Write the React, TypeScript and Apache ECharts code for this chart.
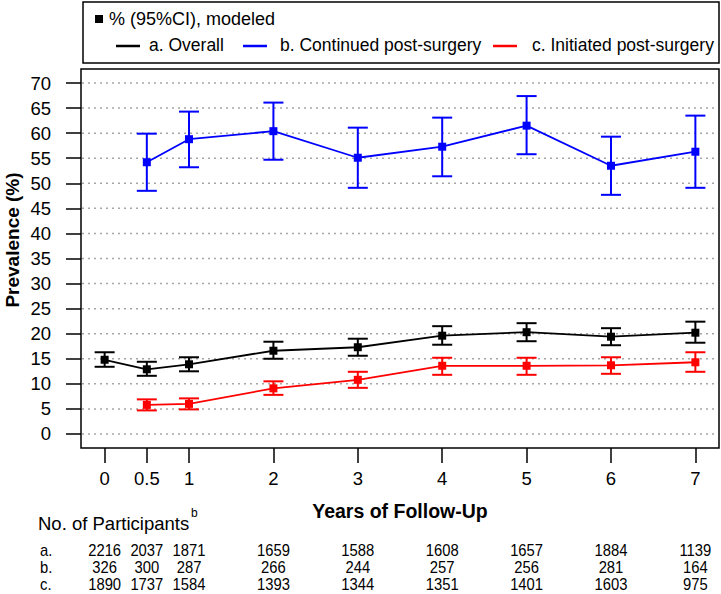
import React, { useEffect, useRef } from 'react';
import * as echarts from 'echarts';

const FONT = '"Liberation Sans", Arial, Helvetica, sans-serif';

const years = [0, 0.5, 1, 2, 3, 4, 5, 6, 7];
const yTicks = [0, 5, 10, 15, 20, 25, 30, 35, 40, 45, 50, 55, 60, 65, 70];
const xRange = [-0.28, 7.28];
const yRange = [-2.8, 72.8];

const overallEst = [14.8, 12.9, 13.9, 16.6, 17.3, 19.6, 20.3, 19.4, 20.2];
const overallLow = [13.4, 11.6, 12.5, 15.0, 15.6, 17.8, 18.5, 17.7, 18.2];
const overallHigh = [16.3, 14.4, 15.3, 18.4, 19.0, 21.5, 22.1, 21.1, 22.4];

const subYears = [0.5, 1, 2, 3, 4, 5, 6, 7];
const contEst = [54.2, 58.8, 60.4, 55.1, 57.3, 61.5, 53.5, 56.3];
const contLow = [48.5, 53.2, 54.7, 49.1, 51.4, 55.8, 47.7, 49.1];
const contHigh = [59.9, 64.3, 66.1, 61.1, 63.1, 67.4, 59.3, 63.5];

const initEst = [5.8, 6.0, 9.1, 10.8, 13.6, 13.6, 13.7, 14.3];
const initLow = [4.7, 4.9, 7.8, 9.2, 11.8, 11.8, 12.0, 12.4];
const initHigh = [6.9, 7.1, 10.5, 12.4, 15.2, 15.2, 15.3, 16.3];

const rowLabels = ['a.', 'b.', 'c.'];
const nOverall = [2216, 2037, 1871, 1659, 1588, 1608, 1657, 1884, 1139];
const nContinued = [326, 300, 287, 266, 244, 257, 256, 281, 164];
const nInitiated = [1890, 1737, 1584, 1393, 1344, 1351, 1401, 1603, 975];

const legendTitle = '% (95%CI), modeled';
const seriesNames = ['a. Overall', 'b. Continued post-surgery', 'c. Initiated post-surgery'];
const seriesColors = ['#000000', '#0000ff', '#ff0000'];

function errSeries(name: string, xs: number[], lo: number[], hi: number[], color: string) {
  return {
    type: 'custom',
    name: name + ' CI',
    z: 3,
    silent: true,
    data: xs.map((x, i) => [x, lo[i], hi[i]]),
    encode: { x: 0, y: [1, 2] },
    renderItem: (params: any, api: any) => {
      const x = api.value(0);
      const pLo = api.coord([x, api.value(1)]);
      const pHi = api.coord([x, api.value(2)]);
      const hw = 10;
      const st = { stroke: color, lineWidth: 2 };
      return {
        type: 'group',
        children: [
          { type: 'line', shape: { x1: pLo[0], y1: pLo[1], x2: pHi[0], y2: pHi[1] }, style: st },
          { type: 'line', shape: { x1: pLo[0] - hw, y1: pLo[1], x2: pLo[0] + hw, y2: pLo[1] }, style: st },
          { type: 'line', shape: { x1: pHi[0] - hw, y1: pHi[1], x2: pHi[0] + hw, y2: pHi[1] }, style: st },
        ],
      };
    },
  };
}

function lineSeries(name: string, xs: number[], est: number[], color: string) {
  return {
    type: 'line',
    name,
    z: 4,
    silent: true,
    data: xs.map((x, i) => [x, est[i]]),
    symbol: 'rect',
    symbolSize: 8,
    showSymbol: true,
    itemStyle: { color },
    lineStyle: { color, width: 1.8 },
    emphasis: { disabled: true },
  };
}

export default function App() {
  const ref = useRef<HTMLDivElement>(null);
  useEffect(() => {
    document.body.style.margin = '0';
    const chart = echarts.init(ref.current!, null, { renderer: 'svg' });
    chart.setOption({
      animation: false,
      backgroundColor: '#ffffff',
      grid: {
        left: 81, right: 2, top: 69, bottom: 146,
        show: true, borderColor: '#000', borderWidth: 1.5, backgroundColor: 'transparent',
      },
      xAxis: {
        type: 'value', min: xRange[0], max: xRange[1],
        axisLine: { show: false, onZero: false },
        splitLine: { show: false },
        axisTick: { show: true, inside: false, length: 15, lineStyle: { color: '#000', width: 1.5 }, customValues: years },
        axisLabel: {
          customValues: years, formatter: (v: number) => String(v),
          fontSize: 18.5, color: '#000', fontFamily: FONT, margin: 21,
        },
      },
      yAxis: {
        type: 'value', min: yRange[0], max: yRange[1],
        axisLine: { show: false, onZero: false },
        splitLine: { show: false },
        axisTick: { show: true, inside: false, length: 15, lineStyle: { color: '#000', width: 1.5 }, customValues: yTicks },
        axisLabel: {
          customValues: yTicks, formatter: (v: number) => String(v),
          fontSize: 18.5, color: '#000', fontFamily: FONT, margin: 30,
        },
      },
      series: [
        {
          type: 'custom', name: 'gridlines', silent: true, z: 1,
          data: yTicks.map((v) => [xRange[0], v]),
          encode: { x: 0, y: 1 },
          renderItem: (params: any, api: any) => {
            const v = api.value(1);
            const a = api.coord([xRange[0], v]);
            const b = api.coord([xRange[1], v]);
            return {
              type: 'line',
              shape: { x1: a[0] + 1, y1: a[1], x2: b[0] - 1, y2: b[1] },
              style: { stroke: '#a6a6a6', lineWidth: 1.5, lineDash: [2, 4] },
            };
          },
        },
        errSeries(seriesNames[0], years, overallLow, overallHigh, seriesColors[0]),
        lineSeries(seriesNames[0], years, overallEst, seriesColors[0]),
        errSeries(seriesNames[1], subYears, contLow, contHigh, seriesColors[1]),
        lineSeries(seriesNames[1], subYears, contEst, seriesColors[1]),
        errSeries(seriesNames[2], subYears, initLow, initHigh, seriesColors[2]),
        lineSeries(seriesNames[2], subYears, initEst, seriesColors[2]),
      ],
    });

    const xs = years.map((v) => chart.convertToPixel({ xAxisIndex: 0 }, v) as number);
    const g: any[] = [];
    // Legend box
    g.push({ type: 'rect', shape: { x: 83, y: 2, width: 636, height: 61 }, style: { fill: '#fff', stroke: '#000', lineWidth: 1.5 } });
    g.push({ type: 'rect', shape: { x: 95, y: 15, width: 8, height: 8 }, style: { fill: '#000' } });
    g.push({ type: 'text', x: 109, y: 19, style: { text: legendTitle, fontSize: 18, fontFamily: FONT, fill: '#000', textAlign: 'left', textVerticalAlign: 'middle' } });
    const lineX = [116, 243, 493];
    const textX = [149, 280, 532];
    for (let i = 0; i < 3; i++) {
      g.push({ type: 'line', shape: { x1: lineX[i], y1: 46, x2: lineX[i] + 24, y2: 46 }, style: { stroke: seriesColors[i], lineWidth: 2.5 } });
      g.push({ type: 'text', x: textX[i], y: 45, style: { text: seriesNames[i], fontSize: 17.5, fontFamily: FONT, fill: '#000', textAlign: 'left', textVerticalAlign: 'middle' } });
    }
    // Axis titles
    g.push({ type: 'text', x: 12, y: 240, rotation: Math.PI / 2, style: { text: 'Prevalence (%)', fontSize: 19, fontWeight: 'bold', fontFamily: FONT, fill: '#000', textAlign: 'center', textVerticalAlign: 'middle' } });
    g.push({ type: 'text', x: 400, y: 511, style: { text: 'Years of Follow-Up', fontSize: 19.5, fontWeight: 'bold', fontFamily: FONT, fill: '#000', textAlign: 'center', textVerticalAlign: 'middle' } });
    // Participants table
    g.push({ type: 'text', x: 38, y: 523, style: { text: 'No. of Participants', fontSize: 18.5, fontFamily: FONT, fill: '#000', textAlign: 'left', textVerticalAlign: 'middle' } });
    g.push({ type: 'text', x: 191, y: 513, style: { text: 'b', fontSize: 12, fontFamily: FONT, fill: '#000', textAlign: 'left', textVerticalAlign: 'middle' } });
    const rows = [nOverall, nContinued, nInitiated];
    const rowY = [550, 567, 584];
    rows.forEach((row, r) => {
      g.push({ type: 'text', x: 40, y: rowY[r], scaleX: 0.87, style: { text: rowLabels[r], fontSize: 17, fontFamily: FONT, fill: '#000', textAlign: 'left', textVerticalAlign: 'middle' } });
      row.forEach((n, i) => {
        g.push({ type: 'text', x: xs[i], y: rowY[r], scaleX: 0.87, style: { text: String(n), fontSize: 17, fontFamily: FONT, fill: '#000', textAlign: 'center', textVerticalAlign: 'middle' } });
      });
    });
    chart.setOption({ graphic: g });

    return () => chart.dispose();
  }, []);
  return <div ref={ref} style={{ position: 'absolute', left: 0, top: 0, width: 721, height: 594 }} />;
}
